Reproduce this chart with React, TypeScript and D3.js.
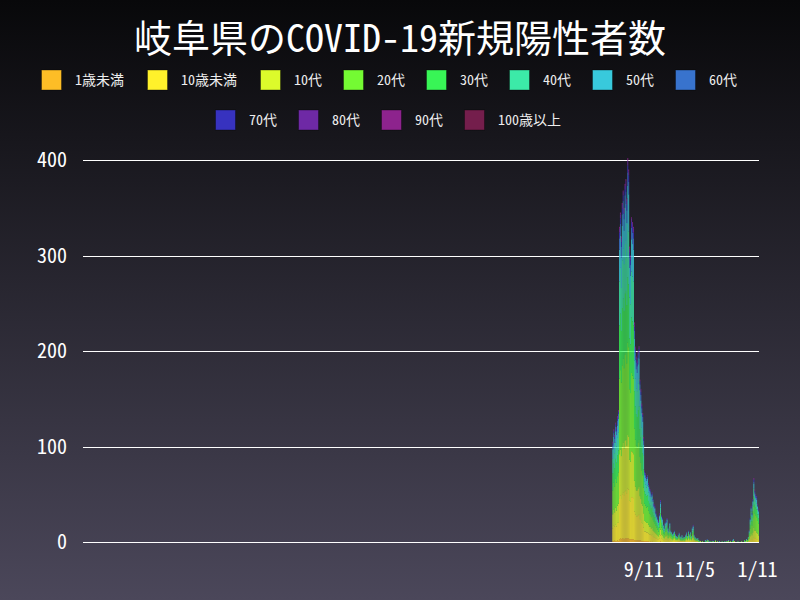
import React from 'react';
import * as d3 from 'd3';

// ---------- DATA ----------
const ageGroups = ['1歳未満', '10歳未満', '10代', '20代', '30代', '40代', '50代', '60代', '70代', '80代', '90代', '100歳以上'];
const ageColors = ['#fdbd26', '#fff12b', '#dcfb2b', '#74fb33', '#38f556', '#3ceaa8', '#38c9dc', '#3873cd', '#3732bf', '#6e29a5', '#8d238d', '#741e4c'];

const axisStart = '2020-01-20';
const axisEnd = '2022-01-12';
const dataStart = '2021-08-09';
const tickDates = ['2021-09-11', '2021-11-05', '2022-01-11'];
const tickLabels = ['9/11', '11/5', '1/11'];
const yTicks = [0, 100, 200, 300, 400];
const title = '岐阜県のCOVID-19新規陽性者数';

// daily counts from dataStart, one array per age group
const under1 = [
  1,1,2,1,1,2,1,3,4,3, 4,4,3,4,4,4,4,4,3,3, 3,3,3,2,2,2,2,2,2,2, 2,1,1,1,1,1,1,1,1,0,
  1,0,1,0,0,0,0,0,0,0, 0,1,0,0,0,0,0,0,0,0, 0,0,0,0,0,0,0,0,0,0, 0,0,0,0,0,0,0,0,0,0,
  0,0,0,0,0,0,0,0,0,0, 0,0,0,0,0,0,0,0,0,0, 0,0,0,0,0,0,0,0,0,0, 0,0,0,0,0,0,0,0,0,0,
  0,0,0,0,0,0,0,0,0,0, 0,0,0,0,0,0,0,0,0,0, 0,0,0,0,0,0,0,0,0,0, 0,0,0,0,0,0,0];
const under10 = [
  13,16,14,17,15,18,19,43,45,42, 46,48,46,49,50,47,52,51,40,39, 44,44,43,30,27,25,25,26,27,22, 21,19,18,14,10,10,9,9,8,8,
  7,7,7,6,5,5,4,4,3,3, 4,6,4,3,2,2,3,3,3,2, 2,3,2,1,1,2,2,1,1,1, 1,1,1,1,1,1,1,0,1,2,
  1,2,1,1,1,2,2,1,1,0, 1,0,0,0,0,0,0,0,0,0, 0,0,0,0,0,0,0,0,0,0, 0,0,0,0,0,0,0,0,0,0,
  0,0,0,0,0,0,0,0,0,0, 1,0,0,0,0,0,0,0,0,0, 0,0,0,0,0,0,1,2,3,2, 3,5,4,4,3,3,2];
const teens = [
  15,17,15,18,17,18,20,46,48,45, 50,52,49,53,53,50,56,55,43,42, 48,47,46,32,29,27,27,28,29,24, 22,20,19,15,11,10,10,10,9,8,
  8,7,7,6,6,5,5,4,4,3, 4,6,4,4,3,2,3,3,4,2, 2,3,2,2,1,1,2,1,1,1, 2,2,1,0,1,0,1,1,1,1,
  1,2,1,2,1,2,3,1,1,1, 0,1,0,0,1,0,0,0,0,0, 0,1,0,0,0,0,0,0,0,0, 1,0,0,0,0,0,0,0,0,0,
  0,0,0,0,1,0,0,0,0,0, 0,0,0,0,0,0,0,0,0,0, 0,0,0,1,0,1,2,4,6,5, 7,10,8,8,7,6,5];
const twenties = [
  25,28,27,30,29,31,33,79,83,77, 85,88,84,90,91,86,97,94,74,72, 82,80,79,55,49,47,45,48,49,41, 38,35,32,27,18,17,16,17,15,14,
  13,12,12,11,10,9,8,7,6,5, 7,10,7,6,4,4,5,5,6,4, 3,5,3,3,2,2,3,2,1,1, 2,2,1,1,2,1,1,2,2,2,
  1,3,2,3,1,4,4,2,1,1, 1,1,1,0,0,0,1,0,0,0, 0,1,1,0,0,0,0,1,0,0, 0,0,1,0,0,0,0,0,0,0,
  0,0,1,0,0,0,1,0,0,1, 0,0,0,0,0,0,0,0,1,0, 0,1,0,1,1,2,4,8,12,10, 15,22,18,16,16,13,12];
const thirties = [
  18,20,19,21,21,22,23,56,59,54, 60,63,60,64,65,61,68,66,53,51, 58,57,56,39,35,33,32,34,35,29, 27,25,23,19,13,12,12,12,10,10,
  9,9,9,8,7,7,5,5,4,4, 5,7,5,4,3,2,3,4,4,2, 2,3,2,2,2,2,2,1,1,1, 1,2,1,1,1,1,1,1,1,2,
  1,2,1,2,1,2,3,1,1,1, 0,1,0,1,0,0,0,0,0,1, 0,0,0,0,0,1,0,0,0,0, 1,0,0,0,0,0,0,1,0,0,
  0,0,0,1,0,0,0,0,1,0, 0,0,0,0,1,0,0,0,0,0, 0,1,0,0,1,1,2,4,6,5, 7,11,9,8,8,7,6];
const forties = [
  15,16,16,17,17,18,19,46,48,45, 50,52,49,52,53,50,56,55,43,42, 48,47,46,32,29,27,27,28,29,24, 22,20,19,15,10,10,9,10,9,8,
  8,7,7,6,5,5,4,4,4,3, 4,6,4,4,3,2,3,3,3,2, 1,3,1,1,1,1,1,1,1,0, 1,1,1,1,1,0,1,1,1,1,
  1,1,1,1,1,2,2,1,0,1, 1,0,1,0,0,0,0,0,0,0, 1,0,1,0,0,0,0,0,1,0, 0,0,0,0,0,0,0,0,0,0,
  1,0,0,0,0,0,0,0,0,1, 0,0,0,0,0,0,0,0,0,0, 0,0,1,0,0,1,1,3,5,4, 6,8,7,6,6,5,4];
const fifties = [
  10,12,11,12,12,13,14,33,34,32, 36,37,35,38,38,36,40,39,31,30, 34,34,33,23,20,20,19,20,21,17, 16,15,14,11,7,7,7,7,6,6,
  5,5,5,5,4,4,3,2,2,2, 3,4,2,2,2,2,2,2,3,2, 1,2,1,1,1,1,1,1,1,1, 0,1,0,1,1,1,0,0,1,1,
  1,1,1,1,1,2,2,1,1,0, 0,1,0,0,0,0,0,0,0,1, 0,0,0,1,0,0,0,0,0,0, 0,0,0,0,1,0,0,0,0,0,
  0,0,0,0,1,0,0,0,0,1, 0,0,0,0,0,0,0,0,0,0, 0,0,0,1,0,0,1,2,3,2, 4,5,4,4,4,3,3];
const sixties = [
  4,4,4,5,4,5,5,12,12,11, 12,13,12,13,13,13,14,13,11,11, 12,12,12,8,7,7,7,7,7,6, 6,5,5,4,3,3,2,2,2,2,
  2,2,2,2,1,1,1,1,1,1, 1,2,1,1,1,1,1,1,1,1, 1,1,1,0,0,1,0,1,0,0, 0,0,1,0,0,0,0,0,0,1,
  0,0,1,0,0,1,1,0,0,0, 0,0,0,0,0,0,0,0,0,0, 0,1,0,0,0,0,0,0,0,0, 0,0,0,0,0,0,0,0,0,0,
  0,0,0,0,0,0,0,0,1,0, 0,0,0,0,0,0,0,0,0,0, 0,0,0,0,0,0,1,1,1,1, 1,2,2,2,2,1,1];
const seventies = [
  2,2,2,2,2,2,2,6,6,5, 6,6,6,6,6,6,7,7,5,5, 6,6,6,4,3,3,3,3,3,3, 3,2,2,2,1,1,1,1,1,1,
  1,1,1,1,1,1,1,1,1,0, 1,1,1,1,0,0,0,1,0,0, 0,0,0,0,0,0,1,0,0,0, 1,0,0,0,0,0,1,0,0,0,
  0,1,0,0,0,0,0,1,0,0, 0,0,0,0,0,0,0,0,0,0, 0,0,0,0,0,0,0,1,0,0, 0,0,0,0,0,0,0,0,0,0,
  0,0,0,0,0,0,0,0,0,0, 0,0,0,0,0,0,0,0,0,0, 0,0,0,0,0,0,0,1,1,1, 1,2,1,1,1,1,1];
const eighties = [
  1,1,1,1,1,2,1,4,4,4, 4,4,4,4,5,4,5,4,4,3, 4,3,4,3,2,2,2,2,2,1, 2,2,1,1,1,1,1,1,1,1,
  1,0,1,0,1,1,1,0,0,1, 1,1,0,0,0,0,0,0,1,0, 0,0,0,0,0,0,0,0,0,0, 0,1,0,0,0,0,0,0,1,0,
  0,0,0,0,0,0,1,0,0,0, 0,0,0,0,0,0,0,0,0,0, 0,0,0,0,0,0,0,0,0,0, 0,0,0,0,0,0,0,0,0,0,
  0,0,1,0,0,0,0,0,0,0, 0,0,0,0,0,0,0,0,0,0, 0,0,0,0,0,0,0,0,1,0, 1,1,1,1,1,1,1];
const nineties = [
  1,1,1,1,1,1,1,2,2,2, 2,1,2,2,2,2,3,2,2,2, 1,2,2,2,1,1,1,2,1,1, 1,1,1,1,0,0,0,0,0,0,
  0,0,0,0,0,0,0,0,0,0, 0,0,0,0,0,0,0,0,0,0, 0,0,0,0,0,0,0,0,0,0, 0,0,0,0,0,0,0,0,0,0,
  0,0,0,0,0,0,0,0,0,0, 0,0,0,0,0,0,0,0,0,0, 0,0,0,0,0,0,0,0,0,0, 0,0,0,0,0,0,0,0,0,0,
  0,0,0,0,0,0,0,0,0,0, 0,0,0,0,0,0,0,0,0,0, 0,0,0,0,0,0,0,0,0,0, 0,1,1,0,0,0,0];
const over100 = [
  0,0,0,0,0,0,0,0,0,0, 0,0,0,0,0,1,0,0,1,0, 0,0,0,0,1,1,0,0,0,0, 0,0,0,0,0,0,0,0,0,0,
  0,0,0,0,0,0,0,0,0,0, 0,0,0,0,0,0,0,0,0,0, 0,0,0,0,0,0,0,0,0,0, 0,0,0,0,0,0,0,0,0,0,
  0,0,0,0,0,0,0,0,0,0, 0,0,0,0,0,0,0,0,0,0, 0,0,0,0,0,0,0,0,0,0, 0,0,0,0,0,0,0,0,0,0,
  0,0,0,0,0,0,0,0,0,0, 0,0,0,0,0,0,0,0,0,0, 0,0,0,0,0,0,0,0,0,0, 0,0,0,0,0,0,0];

const seriesValues = [under1, under10, teens, twenties, thirties, forties, fifties, sixties, seventies, eighties, nineties, over100];

// ---------- LAYOUT ----------
const W = 800, H = 600;
const plot = { left: 83, right: 759, top: 160, bottom: 542 };
const legendBoxX = [41, 147, 260, 343, 426, 509, 592, 675, 215, 298, 381, 464];
const legendRowY = [80, 120];
const FONT = "'Noto Sans Mono CJK JP', 'Noto Sans CJK JP', 'DejaVu Sans Mono', monospace";

const parse = d3.utcParse('%Y-%m-%d');
const fmt = d3.utcFormat('%Y-%m-%d');

export default function App() {
  const dates = d3.utcDay.range(parse(axisStart)!, d3.utcDay.offset(parse(axisEnd)!, 1)).map(fmt);
  const start = dates.indexOf(dataStart);

  const rows = dates.map((date, i) => {
    const r: any = { date };
    ageGroups.forEach((g, k) => {
      const j = i - start;
      r[g] = j >= 0 && j < seriesValues[k].length ? seriesValues[k][j] : 0;
    });
    return r;
  });

  const stacked = d3.stack().keys(ageGroups)(rows);

  const x = d3.scaleBand<string>().domain(dates).range([plot.left, plot.right]).paddingInner(0.15).paddingOuter(0.075);
  const y = d3.scaleLinear().domain([0, 400]).range([plot.bottom, plot.top]);
  const bw = x.bandwidth();

  return (
    <svg width={W} height={H} style={{ position: 'absolute', left: 0, top: 0, display: 'block' }} fontFamily={FONT}>
      <defs>
        <linearGradient id="bg" x1="0" y1="0" x2="0" y2="1">
          <stop offset="0%" stopColor="#08080a" />
          <stop offset="100%" stopColor="#4b475a" />
        </linearGradient>
      </defs>
      <rect x={0} y={0} width={W} height={H} fill="url(#bg)" />

      <text x={W / 2} y={52} textAnchor="middle" fill="#ffffff" fontSize={38}>{title}</text>

      {ageGroups.map((g, i) => {
        const row = i < 8 ? 0 : 1;
        const cy = legendRowY[row];
        return (
          <g key={g}>
            <rect x={legendBoxX[i] + 0.5} y={cy - 10} width={20} height={20} fill={ageColors[i]} stroke="rgba(0,0,0,0.35)" strokeWidth={1} />
            <text x={legendBoxX[i] + 34} y={cy} dy="0.36em" fill="#eeeeee" fontSize={14}>{g}</text>
          </g>
        );
      })}

      {yTicks.map(t => (
        <g key={t}>
          <line x1={plot.left} x2={plot.right} y1={Math.round(y(t)) + 0.5} y2={Math.round(y(t)) + 0.5} stroke="#ffffff" strokeWidth={1} />
          <text x={67} y={y(t)} dy="0.36em" textAnchor="end" fill="#ffffff" fontSize={20}>{t}</text>
        </g>
      ))}

      <g>
        {stacked.map((layer, k) => (
          <g key={layer.key} fill={ageColors[k]}>
            {layer.map((d, i) => {
              const h = y(d[0]) - y(d[1]);
              if (h <= 0) return null;
              return <rect key={i} x={x(dates[i])!} y={y(d[1])} width={bw} height={h} />;
            })}
          </g>
        ))}
      </g>

      {tickDates.map((td, i) => (
        <text key={td} x={x(td)! + bw / 2} y={577} textAnchor="middle" fill="#ffffff" fontSize={20}>{tickLabels[i]}</text>
      ))}
    </svg>
  );
}
